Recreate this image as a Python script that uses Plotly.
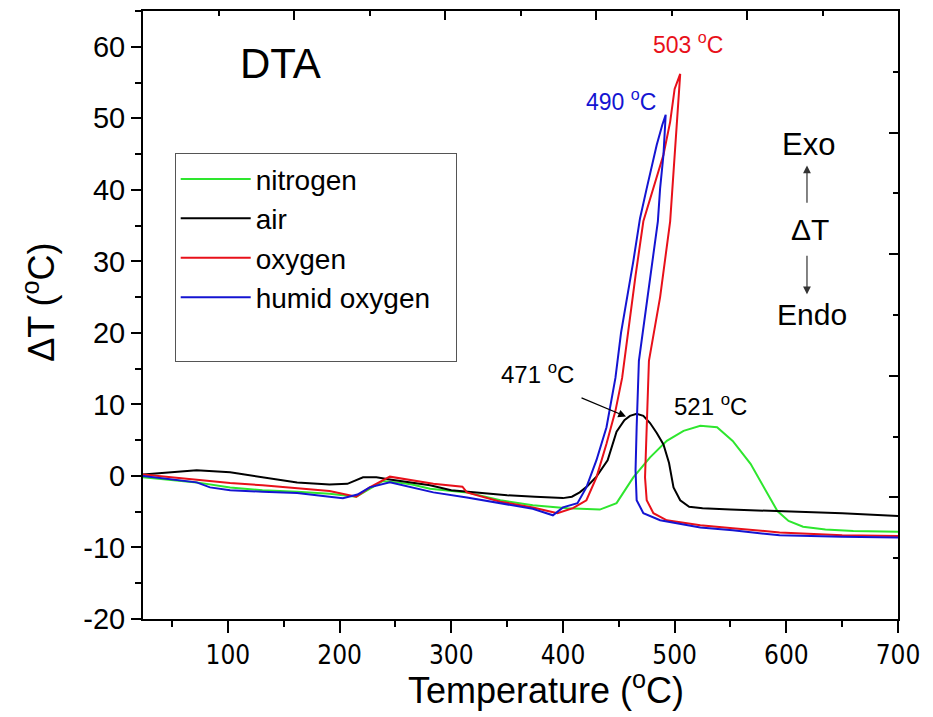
import plotly.graph_objects as go

# ---------------- data ----------------
air_x = [24, 48, 72, 102, 131, 162, 191, 207, 221, 233, 245, 263, 281, 300, 325, 350, 375, 400, 408, 415, 422, 430,
         440, 448, 455, 460, 466, 472, 478, 484, 490, 495, 499, 505, 513, 525, 550, 594, 650, 700]
air_y = [0.2, 0.5, 0.8, 0.5, -0.2, -0.9, -1.2, -1.1, -0.2, -0.2, -0.5, -0.9, -1.3, -2.0, -2.4, -2.7, -2.9, -3.1, -2.9, -2.3, -1.4, -0.1,
         2.2, 6.2, 7.8, 8.4, 8.7, 8.4, 7.4, 6.0, 4.4, 1.8, -1.6, -3.4, -4.3, -4.5, -4.7, -4.9, -5.2, -5.6]

nit_x = [24, 72, 102, 131, 162, 191, 215, 227, 239, 251, 265, 281, 314, 344, 373, 404, 433, 448, 455, 463, 478, 493,
         508, 523, 538, 552, 568, 583, 592, 602, 615, 635, 660, 700]
nit_y = [-0.2, -0.9, -1.6, -2.0, -2.2, -2.5, -2.9, -1.8, -0.7, -0.9, -1.2, -1.8, -2.3, -3.4, -4.1, -4.5, -4.7, -3.8, -2.2, -0.2, 2.6, 4.9,
         6.3, 7.0, 6.8, 4.9, 1.7, -2.4, -4.9, -6.3, -7.1, -7.5, -7.7, -7.8]

oxy_x = [24, 72, 102, 131, 162, 191, 215, 227, 245, 263, 284, 310, 314, 344, 373, 395, 409, 421, 430, 439, 447, 453,
         458, 465, 472, 481, 490, 496, 500, 505, 503, 500, 496, 487, 477, 475, 473.5, 475, 481, 493, 523, 552, 594, 650, 700]
oxy_y = [0.2, -0.6, -1.0, -1.3, -1.7, -2.1, -2.9, -1.6, -0.1, -0.6, -1.1, -1.5, -2.3, -3.6, -4.4, -5.2, -4.5, -3.4, -0.2, 4.5, 9.1, 13.7,
         20.0, 28.0, 35.6, 40.2, 44.9, 49.5, 54.1, 56.2, 51.9, 44.9, 35.6, 25.0, 16.1, 6.8, -0.2, -3.4, -5.2, -6.2, -6.9, -7.3, -7.9, -8.3, -8.4]

hum_x = [24, 72, 84, 102, 131, 162, 191, 203, 216, 227, 245, 263, 284, 314, 344, 373, 391, 400, 413, 421, 430, 439,
         447, 452, 463, 469, 475, 484, 489, 492, 490, 487, 485, 476, 468, 466, 465, 466, 472, 487, 523, 552, 594, 650, 700]
hum_y = [0.0, -0.9, -1.6, -2.0, -2.2, -2.4, -2.9, -3.1, -2.6, -1.6, -0.9, -1.5, -2.3, -3.0, -3.8, -4.6, -5.5, -4.4, -3.8, -1.6, 2.2, 6.8,
         13.7, 20.0, 30.0, 36.0, 40.2, 46.3, 49.1, 50.5, 44.9, 40.2, 35.6, 25.0, 16.1, 6.8, 0.8, -3.4, -5.2, -6.2, -7.2, -7.6, -8.3, -8.5, -8.6]

series_names = ["nitrogen", "air", "oxygen", "humid oxygen"]
series_colors = ["#2ee62e", "#000000", "#e8101a", "#1414d2"]

peak_labels = ["503 <sup>o</sup>C", "490 <sup>o</sup>C", "471 <sup>o</sup>C", "521 <sup>o</sup>C"]

x_ticks = [100, 200, 300, 400, 500, 600, 700]
y_ticks = [-20, -10, 0, 10, 20, 30, 40, 50, 60]
y_tick_text = ["-20", "-10", "0", "10", "20", "30", "40", "50", "60"]

FONT = "Liberation Sans, Arial, sans-serif"

fig = go.Figure()
for name, col, xs, ys in zip(series_names, series_colors,
                             [nit_x, air_x, oxy_x, hum_x], [nit_y, air_y, oxy_y, hum_y]):
    fig.add_trace(go.Scatter(x=xs, y=ys, mode="lines", name=name,
                             line=dict(color=col, width=2), xaxis="x", yaxis="y"))

# empty legend row (the reference legend box has blank space under the last entry)
fig.add_trace(go.Scatter(x=[None], y=[None], mode="lines", name="\u00a0" * 25,
                         line=dict(color="rgba(0,0,0,0)", width=2), hoverinfo="skip"))

# dummy trace so the mirrored (top/right) tick axes render
fig.add_trace(go.Scatter(x=[None], y=[None], xaxis="x2", yaxis="y2", showlegend=False, hoverinfo="skip"))

fig.update_layout(
    width=933, height=717,
    margin=dict(l=143, r=35, t=9, b=98),
    plot_bgcolor="white", paper_bgcolor="white",
    font=dict(family=FONT, color="black"),
    showlegend=True,
    legend=dict(x=0.042, y=0.766, xanchor="left", yanchor="top",
                bgcolor="white", bordercolor="#555555", borderwidth=1,
                font=dict(size=28, family=FONT), itemwidth=70, tracegroupgap=0),
    xaxis=dict(range=[24, 700], tickvals=x_ticks, showline=True, linecolor="black", linewidth=2,
               mirror=True, ticks="outside", ticklen=12, tickwidth=2, tickcolor="black",
               minor=dict(dtick=50, tick0=0, ticks="outside", ticklen=6, tickwidth=2, tickcolor="black"),
               showgrid=False, zeroline=False,
               tickfont=dict(size=26, family="DejaVu Sans Condensed, Liberation Sans Narrow, " + FONT)),
    yaxis=dict(range=[-20, 65], tickvals=y_ticks, ticktext=y_tick_text, showline=True, linecolor="black", linewidth=2,
               mirror=True, ticks="outside", ticklen=10, tickwidth=2, tickcolor="black",
               minor=dict(dtick=5, tick0=0, ticks="outside", ticklen=6, tickwidth=2, tickcolor="black"),
               showgrid=False, zeroline=False, tickfont=dict(size=29)),
    xaxis2=dict(overlaying="x", side="top", anchor="y2", range=[0, 10], tickvals=[0, 2, 4, 6, 8, 10],
                ticks="inside", ticklen=9, tickwidth=2, tickcolor="black", showticklabels=False,
                minor=dict(tickvals=[1, 3, 5, 7, 9], ticks="inside", ticklen=5, tickwidth=2, tickcolor="black"),
                showgrid=False, zeroline=False, showline=False),
    yaxis2=dict(overlaying="y", side="right", anchor="x2", range=[0, 10], tickvals=[0, 2, 4, 6, 8, 10],
                ticks="inside", ticklen=9, tickwidth=2, tickcolor="black", showticklabels=False,
                minor=dict(tickvals=[1, 3, 5, 7, 9], ticks="inside", ticklen=5, tickwidth=2, tickcolor="black"),
                showgrid=False, zeroline=False, showline=False),
)

ann = []
# axis titles (placed as annotations: the reference titles sit off-centre)
ann.append(dict(xref="paper", yref="paper", x=0.534, y=-0.113, text="Temperature (<sup>o</sup>C)",
                showarrow=False, font=dict(size=36), xanchor="center", yanchor="middle"))
ann.append(dict(xref="paper", yref="paper", x=-0.137, y=0.521, text="ΔT (<sup>o</sup>C)", textangle=-90,
                showarrow=False, font=dict(size=36), xanchor="center", yanchor="middle"))
ann.append(dict(x=147, y=57.6, text="DTA", showarrow=False, font=dict(size=42)))
ann.append(dict(x=512.0, y=60.5, text=peak_labels[0], showarrow=False, font=dict(size=23, color="#e8101a")))
ann.append(dict(x=452.0, y=52.5, text=peak_labels[1], showarrow=False, font=dict(size=23, color="#1414d2")))
ann.append(dict(x=376.8, y=14.4, text=peak_labels[2], showarrow=False, font=dict(size=24, color="black")))
ann.append(dict(x=532.5, y=9.9, text=peak_labels[3], showarrow=False, font=dict(size=24, color="black")))
ann.append(dict(x=456.5, y=8.3, ax=415.3, ay=11.0, axref="x", ayref="y", text="", showarrow=True,
                arrowhead=2, arrowsize=1.3, arrowwidth=1.2, arrowcolor="black"))
ann.append(dict(x=620, y=46.3, text="Exo", showarrow=False, font=dict(size=31)))
ann.append(dict(x=621, y=34.5, text="ΔT", showarrow=False, font=dict(size=30)))
ann.append(dict(x=623, y=22.6, text="Endo", showarrow=False, font=dict(size=30)))
ann.append(dict(x=618.5, y=43.4, ax=618.5, ay=38.0, axref="x", ayref="y", text="", showarrow=True,
                arrowhead=2, arrowsize=1.3, arrowwidth=1.2, arrowcolor="#333333"))
ann.append(dict(x=618.5, y=25.4, ax=618.5, ay=31.0, axref="x", ayref="y", text="", showarrow=True,
                arrowhead=2, arrowsize=1.3, arrowwidth=1.2, arrowcolor="#333333"))
fig.update_layout(annotations=ann)

fig.write_html("out.html")
